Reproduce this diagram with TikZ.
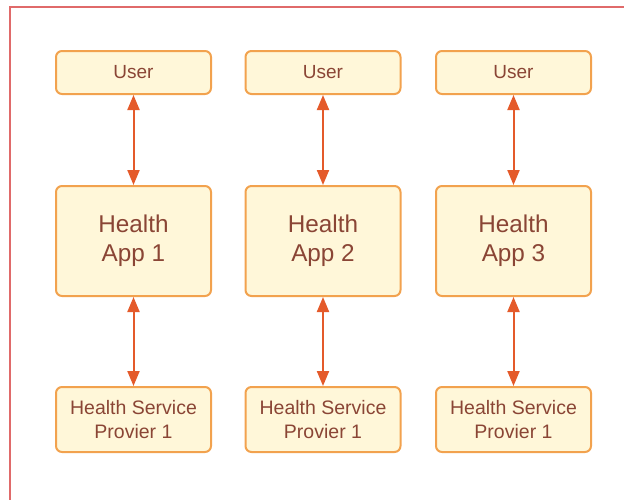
\documentclass[tikz,border=0pt]{standalone}
\usepackage{fontspec}
\setmainfont{Liberation Sans}
\usetikzlibrary{arrows.meta}

\definecolor{boxfill}{HTML}{FFF7D9}
\definecolor{boxline}{HTML}{F2A24E}
\definecolor{boxtext}{HTML}{8A4535}
\definecolor{linkline}{HTML}{E45A2A}
\definecolor{frameline}{HTML}{E06A6A}

\tikzset{
	box/.style={draw=boxline, fill=boxfill, line width=2pt, rounded corners=6pt,
		text=boxtext, align=center, minimum width=155pt, inner sep=0pt},
	userbox/.style={box, minimum height=43pt, font=\fontsize{19}{22}\selectfont},
	appbox/.style={box, minimum height=110pt, font=\fontsize{24.3}{29}\selectfont},
	providerbox/.style={box, minimum height=65pt, font=\fontsize{19.5}{23.5}\selectfont},
	link/.style={<->, draw=linkline, line width=2pt,
		>={Triangle[length=15pt, width=12pt]}}
}

\begin{document}
\begin{tikzpicture}[x=1pt, y=-1pt]
	\useasboundingbox (0, 0) rectangle (624, 499);
	\begin{scope}
		\clip (0, 0) rectangle (624, 499);
		\draw[frameline, line width=2pt] (10, 7) rectangle (650, 530);
	\end{scope}

	% users
	\node[userbox] (user1) at (133.5, 72.5) {User};
	\node[userbox] (user2) at (323, 72.5) {User};
	\node[userbox] (user3) at (513.5, 72.5) {User};

	% apps
	\node[appbox] (app1) at (133.5, 241) {Health\\App 1};
	\node[appbox] (app2) at (323, 241) {Health\\App 2};
	\node[appbox] (app3) at (513.5, 241) {Health\\App 3};

	% providers
	\node[providerbox] (prov1) at (133.5, 419.5) {Health Service\\Provier 1};
	\node[providerbox] (prov2) at (323, 419.5) {Health Service\\Provier 1};
	\node[providerbox] (prov3) at (513.5, 419.5) {Health Service\\Provier 1};

	\draw[link] (user1) -- (app1);
	\draw[link] (user2) -- (app2);
	\draw[link] (user3) -- (app3);

	\draw[link] (app1) -- (prov1);
	\draw[link] (app2) -- (prov2);
	\draw[link] (app3) -- (prov3);

\end{tikzpicture}
\end{document}
